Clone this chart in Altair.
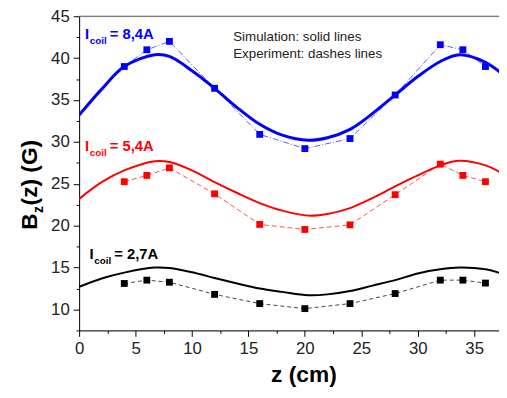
import altair as alt
import pandas as pd

# ---------------- data ----------------
z_exp = [4, 6, 8, 12, 16, 20, 24, 28, 32, 34, 36]
b_exp_84 = [39.0, 41.0, 42.0, 36.4, 30.9, 29.2, 30.4, 35.6, 41.6, 41.0, 39.0]
b_exp_54 = [25.25, 26.0, 26.9, 23.8, 20.15, 19.55, 20.1, 23.7, 27.35, 26.0, 25.25]
b_exp_27 = [13.1, 13.5, 13.25, 11.8, 10.7, 10.1, 10.7, 11.9, 13.5, 13.5, 13.15]

z_sim = [0, 2, 4, 6.7, 8, 10, 12, 14, 16, 18, 20.3, 22, 24, 26, 28, 30, 32, 33.7, 36, 37.4]
b_sim_84 = [33.2, 36.3, 39.0, 40.4, 40.2, 38.5, 36.4, 34.1, 32.1, 30.8, 30.2, 30.5, 31.5,
            33.4, 35.6, 37.8, 39.6, 40.4, 39.5, 38.2]
b_sim_54 = [23.2, 25.2, 26.6, 27.7, 27.6, 26.6, 25.2, 23.9, 22.7, 21.8, 21.2, 21.4, 22.1,
            23.3, 24.7, 26.0, 27.2, 27.75, 27.2, 26.3]
b_sim_27 = [12.7, 13.7, 14.4, 15.0, 14.95, 14.45, 13.75, 13.1, 12.5, 12.1, 11.7, 11.8, 12.2,
            12.85, 13.5, 14.3, 14.8, 15.0, 14.8, 14.3]

series = ["8,4A", "5,4A", "2,7A"]
label_z = [0.52, 0.52, 0.92]
label_b = [42.3, 28.9, 16.0]

x_ticks = [i * 2.5 for i in range(0, 15)]
y_ticks = [7.5 + i * 2.5 for i in range(0, 16)]

# ---------------- styles ----------------
colors = {"8,4A": "#0000ff", "5,4A": "#ff0000", "2,7A": "#000000"}
exp_colors = {"8,4A": "#5a5aff", "5,4A": "#ff5050", "2,7A": "#444444"}
sim_width = {"8,4A": 3, "5,4A": 2, "2,7A": 2}
exp_dash = {"8,4A": [6, 2, 1, 2], "5,4A": [5, 3], "2,7A": [4, 3]}

W, H = 425, 318
FONT = "Liberation Sans"

x_scale = alt.Scale(domain=[0, 37.2], nice=False, zero=False)
y_scale = alt.Scale(domain=[7.5, 45], nice=False, zero=False)

tick_cond = {"condition": {"test": "datum.value % 5 === 0", "value": 6}, "value": 3}

x_axis = alt.Axis(values=x_ticks, labelExpr="datum.value % 5 === 0 ? datum.label : ''",
                  tickSize=tick_cond, grid=False, domainColor="black", tickColor="black",
                  labelFont=FONT, labelFontSize=17, labelColor="#222", labelPadding=4,
                  labelFlush=False,
                  title="z (cm)", titleFont=FONT, titleFontSize=23, titleFontWeight="bold",
                  titleColor="black", titleX=227, titleY=52, titleAlign="center",
                  titleBaseline="alphabetic")
y_axis = alt.Axis(values=y_ticks, labelExpr="datum.value % 5 === 0 ? datum.label : ''",
                  tickSize=tick_cond, grid=False, domainColor="black", tickColor="black",
                  labelFont=FONT, labelFontSize=17, labelColor="#222", labelPadding=4,
                  labelFlush=False, title=None)

X = alt.X("z:Q", scale=x_scale, axis=x_axis)
Y = alt.Y("B:Q", scale=y_scale, axis=y_axis)

sim_vals = {"8,4A": b_sim_84, "5,4A": b_sim_54, "2,7A": b_sim_27}
exp_vals = {"8,4A": b_exp_84, "5,4A": b_exp_54, "2,7A": b_exp_27}

layers = []
for s in series:
    sim_df = pd.DataFrame({"z": z_sim, "B": sim_vals[s]})
    exp_df = pd.DataFrame({"z": z_exp, "B": exp_vals[s]})
    sim = alt.Chart(sim_df).mark_line(interpolate="catmull-rom", clip=True,
                                      color=colors[s], strokeWidth=sim_width[s]).encode(x=X, y=Y)
    exp_line = alt.Chart(exp_df).mark_line(color=exp_colors[s], strokeWidth=1,
                                           strokeDash=exp_dash[s]).encode(x=X, y=Y)
    exp_pts = alt.Chart(exp_df).mark_square(color=colors[s], size=48, opacity=1).encode(x=X, y=Y)
    layers += [exp_line, sim, exp_pts]

# current labels
lab_df = pd.DataFrame({"z": label_z, "B": label_b, "s": series,
                       "rest": ["= " + s for s in series]})
col_scale = alt.Scale(domain=series, range=[colors[s] for s in series])
base_lab = alt.Chart(lab_df).encode(
    x=X, y=Y, color=alt.Color("s:N", scale=col_scale, legend=None))
lab_I = base_lab.mark_text(align="left", baseline="alphabetic", font=FONT, fontSize=15,
                           fontWeight="bold").encode(text=alt.value("I"))
lab_sub = base_lab.mark_text(align="left", baseline="alphabetic", font=FONT, fontSize=10,
                             fontWeight="bold", dx=4.7, dy=5).encode(text=alt.value("coil"))
lab_rest = base_lab.mark_text(align="left", baseline="alphabetic", font=FONT, fontSize=15,
                              fontWeight="bold", dx=25).encode(text="rest:N")
layers += [lab_I, lab_sub, lab_rest]

# note
note_df = pd.DataFrame({"z": [13.65, 13.65], "B": [42.02, 39.97],
                        "t": ["Simulation: solid lines", "Experiment: dashes lines"]})
note = alt.Chart(note_df).mark_text(align="left", baseline="alphabetic", font=FONT,
                                    fontSize=13.5, color="#222").encode(x=X, y=Y, text="t:N")
layers.append(note)

# top frame line
one = pd.DataFrame({"a": [0]})
top = alt.Chart(one).mark_rule(color="#555", strokeWidth=1).encode(
    x=alt.value(0), x2=alt.value(W), y=alt.value(0))
layers.append(top)

# y title with subscript: B_z(z) (G)
yt_B = alt.Chart(one).mark_text(angle=270, align="left", baseline="alphabetic", font=FONT,
                                fontSize=23, fontWeight="bold", color="black").encode(
    x=alt.value(-43), y=alt.value(216), text=alt.value("B"))
yt_z = alt.Chart(one).mark_text(angle=270, align="left", baseline="alphabetic", font=FONT,
                                fontSize=14, fontWeight="bold", color="black").encode(
    x=alt.value(-37), y=alt.value(199.2), text=alt.value("z"))
yt_rest = alt.Chart(one).mark_text(angle=270, align="left", baseline="alphabetic", font=FONT,
                                   fontSize=23, fontWeight="bold", color="black").encode(
    x=alt.value(-43), y=alt.value(191.5), text=alt.value("(z) (G)"))
layers += [yt_B, yt_z, yt_rest]

chart = alt.layer(*layers).properties(
    width=W, height=H,
    autosize=alt.AutoSizeParams(type="none"),
    padding={"left": 72, "top": 6, "right": 0, "bottom": 60},
).configure_view(stroke=None).configure(background="white")

chart.save("out.html", embed_options={"renderer": "svg", "actions": False})
